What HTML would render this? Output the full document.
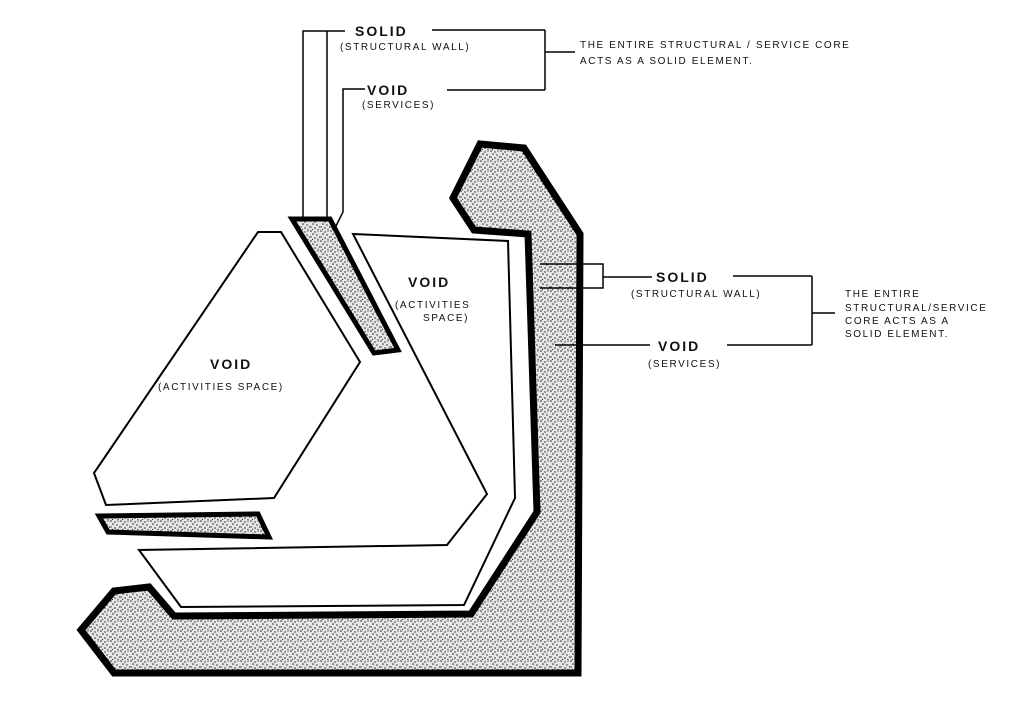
<!DOCTYPE html>
<html><head><meta charset="utf-8"><style>
html,body{margin:0;padding:0;background:#fff;}
svg{display:block}
text{font-family:"Liberation Sans",sans-serif;fill:#111;}
.b{font-size:14px;font-weight:bold;letter-spacing:2px}
.s{font-size:10px;letter-spacing:1.6px}
</style></head><body>
<svg width="1024" height="710" viewBox="0 0 1024 710" xmlns="http://www.w3.org/2000/svg">
<defs>
<pattern id="st" width="10" height="10" patternUnits="userSpaceOnUse">
<rect width="10" height="10" fill="#e6e6e6"/>
<g fill="#222">
<circle cx="1" cy="1" r=".8"/><circle cx="5" cy="2" r=".7"/><circle cx="8" cy="1" r=".6"/>
<circle cx="3" cy="4" r=".8"/><circle cx="7" cy="5" r=".7"/><circle cx="9.5" cy="7" r=".6"/>
<circle cx="1" cy="7" r=".7"/><circle cx="5" cy="8" r=".8"/><circle cx="8" cy="9.3" r=".6"/>
<circle cx="2.5" cy="9.5" r=".6"/>
</g></pattern>
</defs>
<rect width="1024" height="710" fill="#fff"/>
<polygon points="480,144 524,148 580,234 578,673 114,673 81,630 114,591 149,587 174,616 471,614 537,512 528,234 474,230 453,198" fill="url(#st)" stroke="#000" stroke-width="7" stroke-linejoin="miter"/>
<polygon points="353,234 508,241 515,498 464,605 181,607 139,550 447,545 487,494" fill="#fff" stroke="#000" stroke-width="2"/>
<polygon points="258,232 281,232 360,362 274,498 106,505 94,473" fill="#fff" stroke="#000" stroke-width="2"/>
<polygon points="292,219 330,219 398,350 374,353" fill="url(#st)" stroke="#000" stroke-width="5"/>
<polygon points="99,516 258,514 269,537 108,532" fill="url(#st)" stroke="#000" stroke-width="5"/>
<g stroke="#000" stroke-width="1.5" fill="none">
<polyline points="345,31 303,31 303,218"/>
<line x1="327" y1="31" x2="327" y2="218"/>
<line x1="432" y1="30" x2="545" y2="30"/>
<line x1="545" y1="30" x2="545" y2="90"/>
<line x1="545" y1="52" x2="575" y2="52"/>
<polyline points="365,89 343,89 343,212 335,228"/>
<line x1="447" y1="90" x2="545" y2="90"/>
<polyline points="540,264 603,264 603,288 540,288"/>
<line x1="603" y1="277" x2="652" y2="277"/>
<line x1="733" y1="276" x2="812" y2="276"/>
<line x1="812" y1="276" x2="812" y2="345"/>
<line x1="812" y1="313" x2="835" y2="313"/>
<line x1="555" y1="345" x2="650" y2="345"/>
<line x1="727" y1="345" x2="812" y2="345"/>
</g>
<text class="b" x="355" y="36">SOLID</text>
<text class="s" x="340" y="50">(STRUCTURAL WALL)</text>
<text class="b" x="367" y="95">VOID</text>
<text class="s" x="362" y="108">(SERVICES)</text>
<text class="s" x="580" y="48">THE ENTIRE STRUCTURAL / SERVICE CORE</text>
<text class="s" x="580" y="64">ACTS AS A SOLID ELEMENT.</text>
<text class="b" x="656" y="282">SOLID</text>
<text class="s" x="631" y="297">(STRUCTURAL WALL)</text>
<text class="b" x="658" y="351">VOID</text>
<text class="s" x="648" y="367">(SERVICES)</text>
<text class="s" x="845" y="297">THE ENTIRE</text>
<text class="s" x="845" y="311">STRUCTURAL/SERVICE</text>
<text class="s" x="845" y="324">CORE ACTS AS A</text>
<text class="s" x="845" y="337">SOLID ELEMENT.</text>
<text class="b" x="408" y="287">VOID</text>
<text class="s" x="395" y="308">(ACTIVITIES</text>
<text class="s" x="423" y="321">SPACE)</text>
<text class="b" x="210" y="369">VOID</text>
<text class="s" x="158" y="390">(ACTIVITIES SPACE)</text>
</svg>
</body></html>
